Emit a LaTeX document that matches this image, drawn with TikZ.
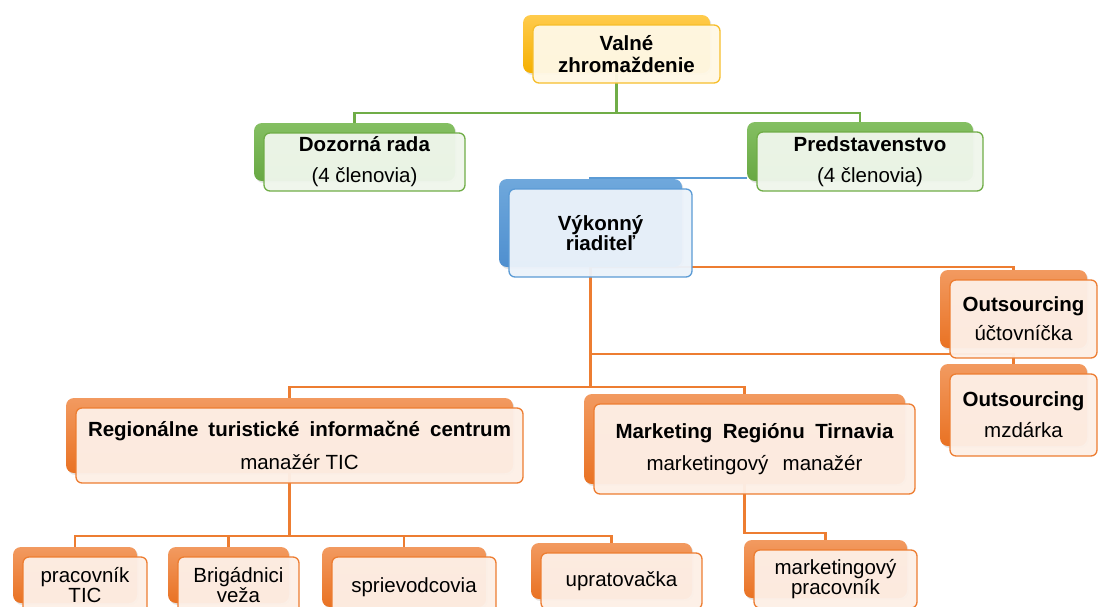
\documentclass[tikz,border=0pt]{standalone}
\usepackage{fontspec}
\setmainfont{Liberation Sans}
\usetikzlibrary{shadows,backgrounds}
\definecolor{ylT}{HTML}{FFCB4C}\definecolor{ylB}{HTML}{F5B000}\definecolor{ylD}{HTML}{F6BE2C}\definecolor{ylF}{HTML}{FFF8E5}
\definecolor{grT}{HTML}{84BF62}\definecolor{grB}{HTML}{68A843}\definecolor{grD}{HTML}{70AD47}\definecolor{grF}{HTML}{EFF6EB}
\definecolor{blT}{HTML}{6FA8DC}\definecolor{blB}{HTML}{4F8FCF}\definecolor{blD}{HTML}{5B9BD5}\definecolor{blF}{HTML}{EBF2FA}
\definecolor{orT}{HTML}{F29A60}\definecolor{orB}{HTML}{E97223}\definecolor{orD}{HTML}{ED7D31}\definecolor{orF}{HTML}{FDEFE6}
\tikzset{
  fnt/.style={font=\fontsize{20.5}{22}\selectfont},
  backbase/.style={rounded corners=8pt, inner sep=0pt, drop shadow={opacity=0.22,shadow xshift=1.5pt,shadow yshift=-2pt}},
  frontbase/.style={rounded corners=6pt, line width=1.3pt, align=center, inner sep=0pt, fill opacity=0.96, text opacity=1, draw opacity=1, fnt},
  ylback/.style={backbase, top color=ylT, bottom color=ylB},
  ylfront/.style={frontbase, draw=ylD, fill=ylF},
  grback/.style={backbase, top color=grT, bottom color=grB},
  grfront/.style={frontbase, draw=grD, fill=grF},
  blback/.style={backbase, top color=blT, bottom color=blB},
  blfront/.style={frontbase, draw=blD, fill=blF},
  orback/.style={backbase, top color=orT, bottom color=orB},
  orfront/.style={frontbase, draw=orD, fill=orF},
  gconn/.style={draw=grD, line width=2.5pt},
  bconn/.style={draw=blD, line width=2.5pt},
  oconn/.style={draw=orD, line width=2.5pt},
}
% name, scheme, x, y, w, h, text
\newcommand\obox[7]{%
  \node[#2back, minimum width=#5pt, minimum height=#6pt] (#1b) at (#3-10,#4-10) {};
  \node[#2front, minimum width=#5pt, minimum height=#6pt] (#1) at (#3,#4) {#7};}
\begin{document}
\begin{tikzpicture}[x=1pt,y=-1pt]
\useasboundingbox (0,0) rectangle (1098,606);
\clip (0,0) rectangle (1098,606);
\obox{val}{yl}{626.5}{54}{187}{58}{\textbf{Valné}\\\textbf{zhromaždenie}}
\obox{doz}{gr}{364.5}{162}{201}{58}{\textbf{Dozorná rada}\\[9pt](4 členovia)}
\obox{pred}{gr}{870}{161.5}{226}{59}{\textbf{Predstavenstvo}\\[9pt](4 členovia)}
\obox{vyk}{bl}{600.5}{233}{183}{88}{\textbf{Výkonný}\\[-2pt]\textbf{riaditeľ}}
\obox{outa}{or}{1023.5}{319}{147}{78}{\textbf{Outsourcing}\\[7pt]účtovníčka}
\obox{outb}{or}{1023.5}{415}{147}{82}{\textbf{Outsourcing}\\[9pt]mzdárka}
\obox{rtic}{or}{299.5}{445.5}{447}{75}{\makebox[423pt][s]{\bfseries Regionálne turistické informačné centrum}\\[11pt]manažér TIC}
\obox{mrt}{or}{754.5}{449}{321}{90}{\makebox[278pt][s]{\bfseries Marketing Regiónu Tirnavia}\\[10pt]\makebox[216pt][s]{marketingový manažér}}
\obox{prac}{or}{85}{585}{124}{56}{pracovník\\[-2pt]TIC}
\obox{brig}{or}{238.5}{585}{121}{56}{Brigádnici\\[-2pt]veža}
\obox{spri}{or}{414}{587}{164}{60}{sprievodcovia}
\obox{upr}{or}{621.5}{581}{161}{56}{upratovačka}
\obox{mpr}{or}{835.5}{579}{163}{58}{marketingový\\[-2pt]pracovník}
\begin{scope}[on background layer]
  \draw[gconn] (valb.south) -- ++(0,40) -| (dozb.north);
  \draw[gconn] (valb.south) -- ++(0,40) -| (predb.north);
  \draw[bconn] (vykb.north) |- ([yshift=3pt]predb.south west);
  \draw[oconn] (vykb.south) -- (vykb.south -| outab.north) -- (outab.north);
  \draw[oconn] (vykb.south) -- ++(0,87) -| (outbb.north);
  \draw[oconn] (vykb.south) -- ++(0,120) -| (rticb.north);
  \draw[oconn] (vykb.south) -- ++(0,120) -| (mrtb.north);
  \draw[oconn] (rticb.south) -- ++(0,63) -| (pracb.north);
  \draw[oconn] (rticb.south) -- ++(0,63) -| (brigb.north);
  \draw[oconn] (rticb.south) -- ++(0,63) -| (sprib.north);
  \draw[oconn] (rticb.south) -- ++(0,63) -| (uprb.north);
  \draw[oconn] (mrtb.south) -- ++(0,49) -| (mprb.north);
\end{scope}
\end{tikzpicture}
\end{document}
